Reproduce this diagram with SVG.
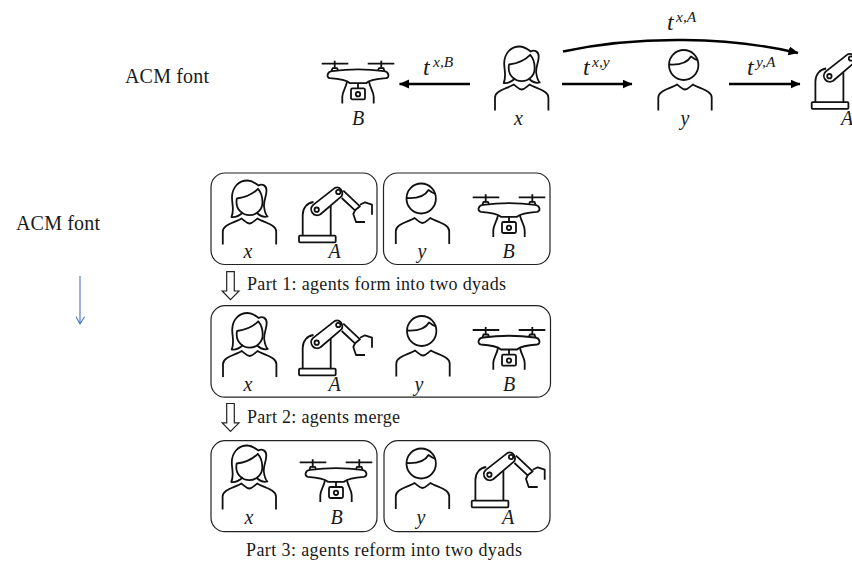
<svg xmlns="http://www.w3.org/2000/svg" xmlns:xlink="http://www.w3.org/1999/xlink" width="852" height="562" viewBox="0 0 852 562">
<style>
text{font-family:"Liberation Serif","DejaVu Serif",serif;fill:#1a1a1a}
.t{font-size:18px}
.h{font-size:20px}
.m{font-style:italic;font-size:20px;text-anchor:middle}
.tt{font-style:italic;font-size:24px}
.s{font-style:italic;font-size:15.5px}
.i{fill:none;stroke:#111;stroke-width:1.8;stroke-linecap:butt;stroke-linejoin:round}
.p{fill:none;stroke:#222;stroke-width:1.2}
.a{fill:none;stroke:#000;stroke-width:2.4}
.b{fill:none;stroke:#222;stroke-width:1.2;stroke-linejoin:miter}
</style>
<defs>
<marker id="ah" markerUnits="userSpaceOnUse" markerWidth="12" markerHeight="10" refX="9.5" refY="4.5" orient="auto"><path d="M0 0L10 4.5L0 9Z" fill="#000"/></marker>
<path id="shoulders" d="M-26.7 64V51C-26.7 44-14 42-8 38C-5 40-3 43 0 43C3 43 5 40 8 38C14 42 26.7 44 26.7 51V64"/>
<g id="woman" class="i">
<path d="M-6.5 32C-10 35-15 37-18 36.5C-15 30-17.5 24-17.5 17C-17.5 7-11 0-2 0C3 0 6 3 9 5C13 3 17 5 17 10C17 16 14 20 14.5 26C15 30 16 34 18 36C14 37 10 35 7 32"/>
<path d="M-12.6 18C-5 17 3 14 8.5 8.3C11 11 13 17 13 21.7A13 13 0 0 1-13 21.7C-13 20-13 19-12.6 18Z"/>
<use xlink:href="#shoulders"/>
</g>
<g id="man" class="i">
<ellipse cx="-1.3" cy="18.5" rx="14.7" ry="15"/>
<path d="M-16 18C-8 18.5 2 17 6 10C8 11.5 10 13 13 14"/>
<use xlink:href="#shoulders"/>
</g>
<g id="drone" class="i">
<path d="M-36.3 0H-9.7M9.7 0H36.3M-23.3-3V5M23.3-3V5"/>
<path d="M-26.5 7.5L-25.5 4.5H-21L-20 6.5M26.5 7.5L25.5 4.5H21L20 6.5"/>
<path d="M-26 7.5Q0 4 26 7.5C31 8 32 14 28 14.5C20 15 12 16 8 19.5H-8C-12 16-20 15-28 14.5C-32 14-31 8-26 7.5Z"/>
<path d="M-15.7 39.7V33C-15.7 28-12 24-11 18M15.7 39.7V33C15.7 28 12 24 11 18M0 19.5V24.7"/>
<rect x="-7" y="24.7" width="14" height="11" rx="1.5"/>
<circle cx="0" cy="30.5" r="2.2"/>
</g>
<g id="robot" class="i">
<rect x="0" y="-7.3" width="36.7" height="6.6" rx="1"/>
<path d="M3.7-7.3V-28C3.7-35 8-40 14.5-41M31.7-7.3V-37"/>
<path d="M13.9-37.9L35.9-55.1A5.3 6 0 0 1 42.7-46.9L21.5-28.7A6 6 0 0 1 13.9-37.9Z"/>
<circle cx="17.7" cy="-33.3" r="2.2"/>
<circle cx="39.3" cy="-51" r="2.2"/>
<path d="M44.3-52.3L61-36.7L56-32.7L42.7-45"/>
<path d="M61-38.3L66-40.7L73-38.3V-28.3M56-32.7L54.3-29L57-21H66"/>
</g>
<path id="blockarrow" class="b" d="M226.7 0V19.3H222.2L230.5 28L239 19.3H234.3V0Z"/>
</defs>

<text class="h" x="125" y="83" textLength="84">ACM font</text>
<text class="h" x="16" y="230" textLength="84">ACM font</text>

<g id="top-drone"><use xlink:href="#drone" x="358" y="63.7"/><text class="m" x="358" y="125">B</text></g>
<g id="top-woman"><use xlink:href="#woman" x="521.7" y="46.5"/><text class="m" x="518.5" y="125">x</text></g>
<g id="top-man"><use xlink:href="#man" x="685" y="46.5"/><text class="m" x="685" y="125">y</text></g>
<g id="top-robot"><use xlink:href="#robot" x="811.7" y="109.5"/><text class="m" x="847" y="125">A</text></g>

<g id="connectors">
<path class="a" d="M470 84H399.5" marker-end="url(#ah)"/>
<path class="a" d="M562 84H632" marker-end="url(#ah)"/>
<path class="a" d="M729 84H800" marker-end="url(#ah)"/>
<path class="a" d="M563 51.5C640 35 730 37 798 53" marker-end="url(#ah)"/>
<path d="M80 276V324M76 316.7L80 324L84.5 316.7" fill="none" stroke="#4472C4" stroke-width="1.1"/>
<use xlink:href="#blockarrow" y="271.7"/>
<use xlink:href="#blockarrow" y="403.5"/>
</g>

<g id="edge-labels">
<text class="tt" x="423" y="75">t</text><text class="s" x="433" y="67">x,B</text>
<text class="tt" x="583" y="74.5">t</text><text class="s" x="592" y="67">x,y</text>
<text class="tt" x="747" y="74.5">t</text><text class="s" x="756" y="67">y,A</text>
<text class="tt" x="667" y="30">t</text><text class="s" x="676" y="22">x,A</text>
</g>

<g id="dyad-xA"><rect class="p" x="211" y="173" width="166" height="91.5" rx="14"/>
<use xlink:href="#woman" x="249.5" y="180.5"/><text class="m" x="248" y="258">x</text>
<use xlink:href="#robot" x="299" y="243"/><text class="m" x="334.5" y="258">A</text></g>
<g id="dyad-yB"><rect class="p" x="383.5" y="173" width="166.5" height="91.5" rx="14"/>
<use xlink:href="#man" x="422.5" y="180"/><text class="m" x="422" y="258">y</text>
<use xlink:href="#drone" x="509" y="197.3"/><text class="m" x="508.5" y="258">B</text></g>

<text class="t" x="247" y="289.5" textLength="259">Part 1: agents form into two dyads</text>

<g id="merged"><rect class="p" x="211" y="305.7" width="339.5" height="91.5" rx="14"/>
<use xlink:href="#woman" x="249.7" y="313"/><text class="m" x="248" y="390.5">x</text>
<use xlink:href="#robot" x="299" y="376"/><text class="m" x="334.5" y="390.5">A</text>
<use xlink:href="#man" x="423" y="312.5"/><text class="m" x="419" y="390.5">y</text>
<use xlink:href="#drone" x="509" y="330"/><text class="m" x="509" y="390.5">B</text></g>

<text class="t" x="247" y="422.5" textLength="153">Part 2: agents merge</text>

<g id="dyad-xB"><rect class="p" x="211" y="440.7" width="166" height="91" rx="14"/>
<use xlink:href="#woman" x="249.3" y="445.5"/><text class="m" x="249" y="524">x</text>
<use xlink:href="#drone" x="336" y="462.3"/><text class="m" x="336.5" y="524">B</text></g>
<g id="dyad-yA"><rect class="p" x="384" y="440.7" width="166" height="91" rx="14"/>
<use xlink:href="#man" x="422.5" y="445"/><text class="m" x="421" y="524">y</text>
<use xlink:href="#robot" x="471.7" y="508"/><text class="m" x="508" y="524">A</text></g>

<text class="t" x="246" y="556" textLength="276">Part 3: agents reform into two dyads</text>
</svg>
